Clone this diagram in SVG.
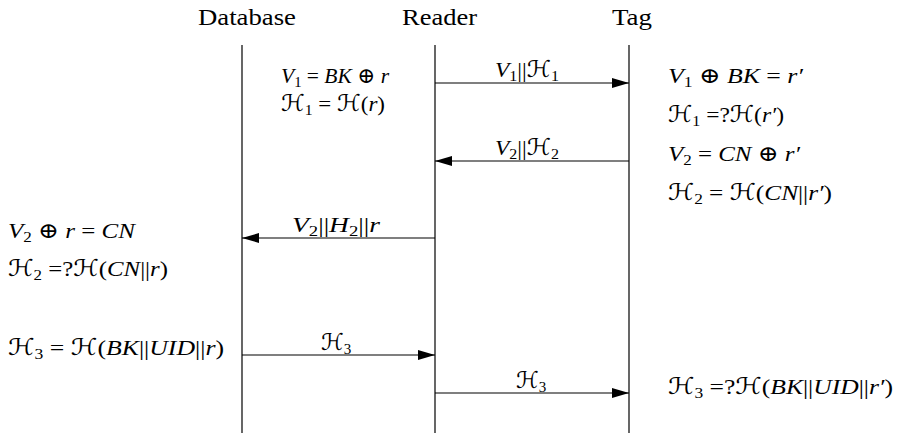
<svg xmlns="http://www.w3.org/2000/svg" width="902" height="433" viewBox="0 0 902 433">
<style>
  .hd{font-family:"Liberation Serif","DejaVu Serif",serif;font-size:23px;fill:#000}
  .m{font-family:"Liberation Serif","DejaVu Serif",serif;font-size:22px;fill:#000}
  .i{font-style:italic}
  .h{font-family:"DejaVu Serif","DejaVu Sans",serif;font-style:normal;font-size:23px}
  .s{font-size:15px}
  .life{stroke:#000;stroke-width:1.2;fill:none}
  .msg{stroke:#000;stroke-width:1.2;fill:none;marker-end:url(#ah)}
</style>
<defs>
  <marker id="ah" viewBox="0 0 17 10" refX="17" refY="5" markerWidth="17" markerHeight="10" markerUnits="userSpaceOnUse" orient="auto">
    <path d="M0,0 L17,5 L0,10 Z" fill="#000"/>
  </marker>
</defs>

<g id="database">
  <text class="hd" x="198" y="25" textLength="98" lengthAdjust="spacingAndGlyphs">Database</text>
  <line class="life" x1="242" y1="45" x2="242" y2="433"/>
  <text class="m" x="8" y="238" textLength="127" lengthAdjust="spacingAndGlyphs"><tspan class="i">V</tspan><tspan class="s" dy="4">2</tspan><tspan dy="-4"> ⊕ </tspan><tspan class="i">r</tspan> = <tspan class="i">CN</tspan></text>
  <text class="m" x="8" y="276" textLength="160" lengthAdjust="spacingAndGlyphs"><tspan class="h">ℋ</tspan><tspan class="s" dy="4">2</tspan><tspan dy="-4"> =?</tspan><tspan class="h">ℋ</tspan>(<tspan class="i">CN</tspan>||<tspan class="i">r</tspan>)</text>
  <text class="m" x="8" y="355" textLength="216" lengthAdjust="spacingAndGlyphs"><tspan class="h">ℋ</tspan><tspan class="s" dy="4">3</tspan><tspan dy="-4"> = </tspan><tspan class="h">ℋ</tspan>(<tspan class="i">BK</tspan>||<tspan class="i">UID</tspan>||<tspan class="i">r</tspan>)</text>
</g>

<g id="reader">
  <text class="hd" x="402" y="25" textLength="75" lengthAdjust="spacingAndGlyphs">Reader</text>
  <line class="life" x1="435" y1="45" x2="435" y2="433"/>
  <text class="m" x="281" y="83" textLength="108" lengthAdjust="spacingAndGlyphs"><tspan class="i">V</tspan><tspan class="s" dy="4">1</tspan><tspan dy="-4"> = </tspan><tspan class="i">BK</tspan> ⊕ <tspan class="i">r</tspan></text>
  <text class="m" x="281" y="111" textLength="104" lengthAdjust="spacingAndGlyphs"><tspan class="h">ℋ</tspan><tspan class="s" dy="4">1</tspan><tspan dy="-4"> = </tspan><tspan class="h">ℋ</tspan>(<tspan class="i">r</tspan>)</text>
</g>

<g id="tag">
  <text class="hd" x="612" y="25" textLength="40" lengthAdjust="spacingAndGlyphs">Tag</text>
  <line class="life" x1="629" y1="45" x2="629" y2="433"/>
  <text class="m" x="668" y="83" textLength="135" lengthAdjust="spacingAndGlyphs"><tspan class="i">V</tspan><tspan class="s" dy="4">1</tspan><tspan dy="-4"> ⊕ </tspan><tspan class="i">BK</tspan> = <tspan class="i">r′</tspan></text>
  <text class="m" x="668" y="122" textLength="116" lengthAdjust="spacingAndGlyphs"><tspan class="h">ℋ</tspan><tspan class="s" dy="4">1</tspan><tspan dy="-4"> =?</tspan><tspan class="h">ℋ</tspan>(<tspan class="i">r′</tspan>)</text>
  <text class="m" x="668" y="161" textLength="132" lengthAdjust="spacingAndGlyphs"><tspan class="i">V</tspan><tspan class="s" dy="4">2</tspan><tspan dy="-4"> = </tspan><tspan class="i">CN</tspan> ⊕ <tspan class="i">r′</tspan></text>
  <text class="m" x="668" y="200" textLength="164" lengthAdjust="spacingAndGlyphs"><tspan class="h">ℋ</tspan><tspan class="s" dy="4">2</tspan><tspan dy="-4"> = </tspan><tspan class="h">ℋ</tspan>(<tspan class="i">CN</tspan>||<tspan class="i">r′</tspan>)</text>
  <text class="m" x="668" y="394" textLength="225" lengthAdjust="spacingAndGlyphs"><tspan class="h">ℋ</tspan><tspan class="s" dy="4">3</tspan><tspan dy="-4"> =?</tspan><tspan class="h">ℋ</tspan>(<tspan class="i">BK</tspan>||<tspan class="i">UID</tspan>||<tspan class="i">r′</tspan>)</text>
</g>

<g id="connectors">
  <line class="msg" x1="435" y1="83" x2="629" y2="83"/>
  <text class="m" x="495" y="77" textLength="64" lengthAdjust="spacingAndGlyphs"><tspan class="i">V</tspan><tspan class="s" dy="4">1</tspan><tspan dy="-4">||</tspan><tspan class="h">ℋ</tspan><tspan class="s" dy="4">1</tspan></text>

  <line class="msg" x1="629" y1="161" x2="435" y2="161"/>
  <text class="m" x="495" y="155" textLength="64" lengthAdjust="spacingAndGlyphs"><tspan class="i">V</tspan><tspan class="s" dy="4">2</tspan><tspan dy="-4">||</tspan><tspan class="h">ℋ</tspan><tspan class="s" dy="4">2</tspan></text>

  <line class="msg" x1="435" y1="238" x2="242" y2="238"/>
  <text class="m" x="292" y="232" textLength="88" lengthAdjust="spacingAndGlyphs"><tspan class="i">V</tspan><tspan class="s" dy="4">2</tspan><tspan dy="-4">||</tspan><tspan class="i">H</tspan><tspan class="s" dy="4">2</tspan><tspan dy="-4">||</tspan><tspan class="i">r</tspan></text>

  <line class="msg" x1="242" y1="355" x2="435" y2="355"/>
  <text class="m" x="321" y="350"><tspan class="h">ℋ</tspan><tspan class="s" dy="4">3</tspan></text>

  <line class="msg" x1="435" y1="393" x2="629" y2="393"/>
  <text class="m" x="516" y="388"><tspan class="h">ℋ</tspan><tspan class="s" dy="4">3</tspan></text>
</g>
</svg>
